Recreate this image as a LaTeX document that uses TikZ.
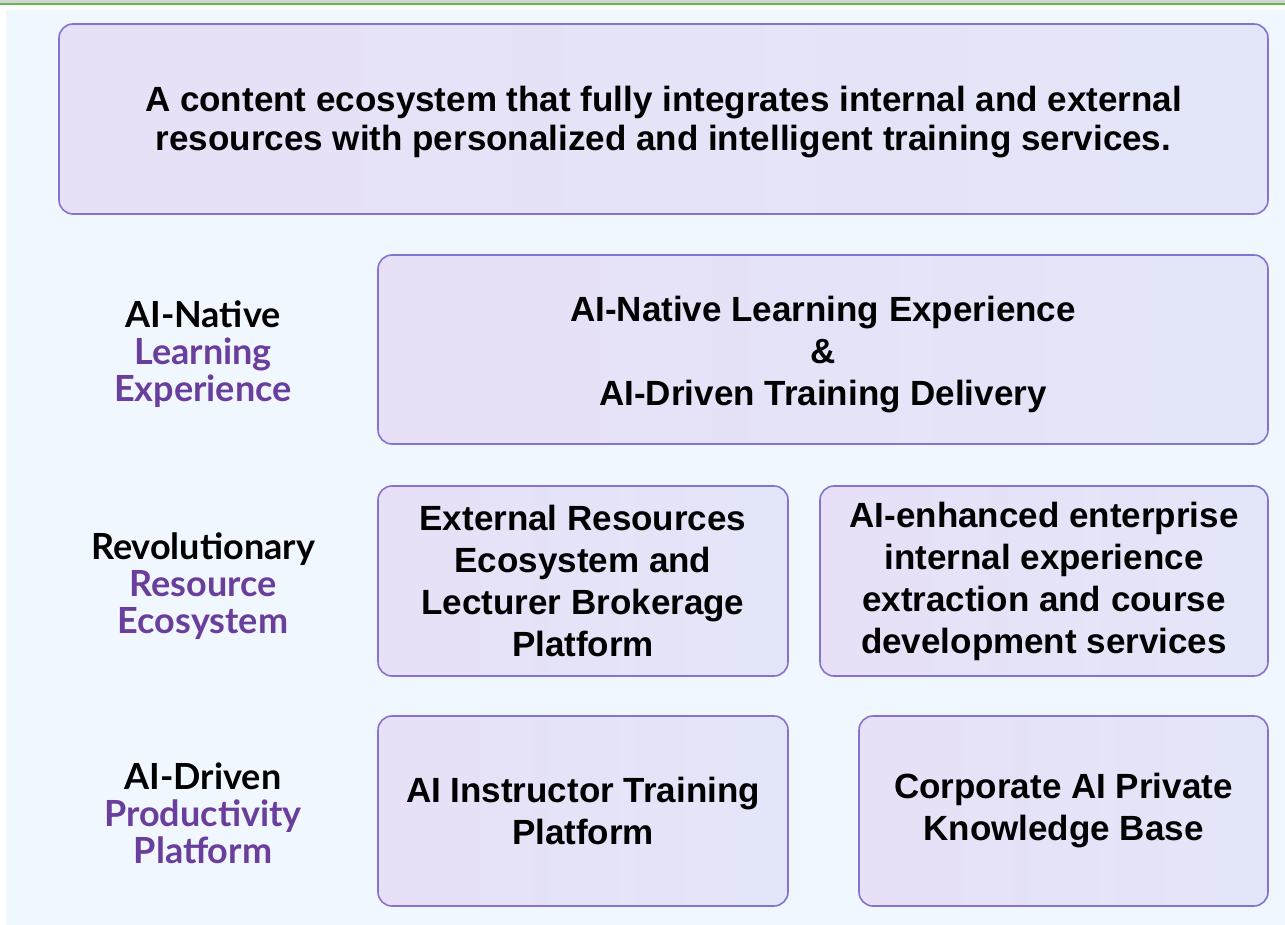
\documentclass[tikz,border=0pt]{standalone}
\usepackage{fontspec}
\setmainfont{Liberation Sans}
\newfontfamily\layerfont{Lato}
\definecolor{PageBlue}{RGB}{240,247,254}
\definecolor{TopGray}{RGB}{212,212,212}
\definecolor{TopGreen}{RGB}{96,190,80}
\definecolor{BoxEdge}{RGB}{132,116,210}
\definecolor{BoxLeft}{RGB}{231,224,247}
\definecolor{BoxRight}{RGB}{227,230,248}
\definecolor{LayerPurple}{RGB}{106,62,156}

\begin{document}
\begin{tikzpicture}[
    x=0.5pt, y=-0.5pt,
    box/.style={rectangle, rounded corners=7pt, draw=BoxEdge, line width=0.8pt,
                left color=BoxLeft, right color=BoxRight, align=center,
                font=\fontsize{17.5}{21}\selectfont\bfseries, inner sep=0pt},
    layer/.style={align=center, font=\layerfont\fontsize{18}{18.5}\selectfont\bfseries}
]
\useasboundingbox (0,0) rectangle (1285,925);

% page background and top rule
\fill[PageBlue] (6,10) rectangle (1285,925);
\fill[TopGray] (0,0) rectangle (1285,3);
\fill[TopGreen] (0,3) rectangle (1285,5.5);

% vision
\node[box, minimum width=604.5pt, minimum height=95pt,
      font=\fontsize{17.5}{19.5}\selectfont\bfseries] (vision) at (663.5,119)
  {\rule{0pt}{15.5pt}A content ecosystem that fully integrates internal and external\\
   resources with personalized and intelligent training services.};

% experience layer
\node[box, minimum width=445pt, minimum height=94.5pt] (delivery) at (823,349.5)
  {\rule{0pt}{17.5pt}AI-Native Learning Experience\\ \&\\ AI-Driven Training Delivery};

% resource layer
\node[box, minimum width=205pt, minimum height=95pt] (external) at (583,581)
  {External Resources\\ Ecosystem and\\ Lecturer Brokerage\\ Platform};
\node[box, minimum width=224pt, minimum height=95pt] (internal) at (1044,581)
  {AI-enhanced enterprise\\ internal experience\\ extraction and course\\ development services};

% productivity layer
\node[box, minimum width=205pt, minimum height=95pt] (instructor) at (583,811)
  {AI Instructor Training\\ Platform};
\node[box, minimum width=204.5pt, minimum height=95pt] (knowledge) at (1063.5,811)
  {Corporate AI Private\\ Knowledge Base};

% layer names
\node[layer] (native) at (203,354)
  {AI-Native\\ \textcolor{LayerPurple}{Learning}\\ \textcolor{LayerPurple}{Experience}};
\node[layer] (revolution) at (203,586)
  {Revolutionary\\ \textcolor{LayerPurple}{Resource}\\ \textcolor{LayerPurple}{Ecosystem}};
\node[layer] (driven) at (203,813)
  {AI-Driven\\ \textcolor{LayerPurple}{Productivity}\\ \textcolor{LayerPurple}{Platform}};

\end{tikzpicture}
\end{document}
